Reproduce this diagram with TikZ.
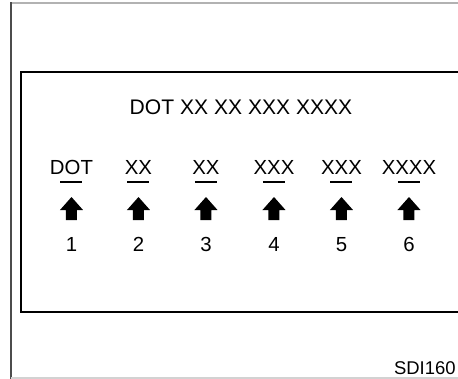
\documentclass[tikz,border=0pt]{standalone}
\usepackage{fontspec}
\setmainfont{Liberation Sans}
\begin{document}
\begin{tikzpicture}[x=0.02cm,y=-0.02cm,
  lbl/.style={anchor=base,inner sep=0pt,font=\fontsize{11.6}{13}\selectfont},
  uparrow/.style={fill=black,draw=none}]
\useasboundingbox (0,0) rectangle (458,379);
\clip (0,0) rectangle (458,379);
% outer frame
\draw[gray!60,line width=0.6pt] (11,3) -- (470,3);
\draw[gray!60!black,line width=0.8pt] (11,2) -- (11,380);
\draw[gray!35,line width=0.6pt] (11,378) -- (470,378);
% plate
\draw[line width=1.3pt] (470,72) -- (21,72) -- (21,312) -- (470,312);
\node[lbl,font=\fontsize{12}{14}\selectfont] (title) at (241,114.5) {DOT XX XX XXX XXXX};
\foreach \x/\lab/\n in {71.5/DOT/1,138.5/XX/2,206/XX/3,274/XXX/4,341.5/XXX/5,409/XXXX/6}{
  \node[lbl] (lab\n) at (\x,174) {\lab};
  \draw[line width=0.9pt] (\x-11,182) -- (\x+11,182);
  \fill[uparrow] (\x,197) -- (\x+11.5,210) -- (\x+5.5,210) -- (\x+5.5,220)
    -- (\x-5.5,220) -- (\x-5.5,210) -- (\x-11.5,210) -- cycle;
  \node[lbl] (num\n) at (\x,252) {\n};
}
\node[lbl,anchor=base east,font=\fontsize{10.5}{12}\selectfont] (code) at (456,375) {SDI160};
\end{tikzpicture}
\end{document}
